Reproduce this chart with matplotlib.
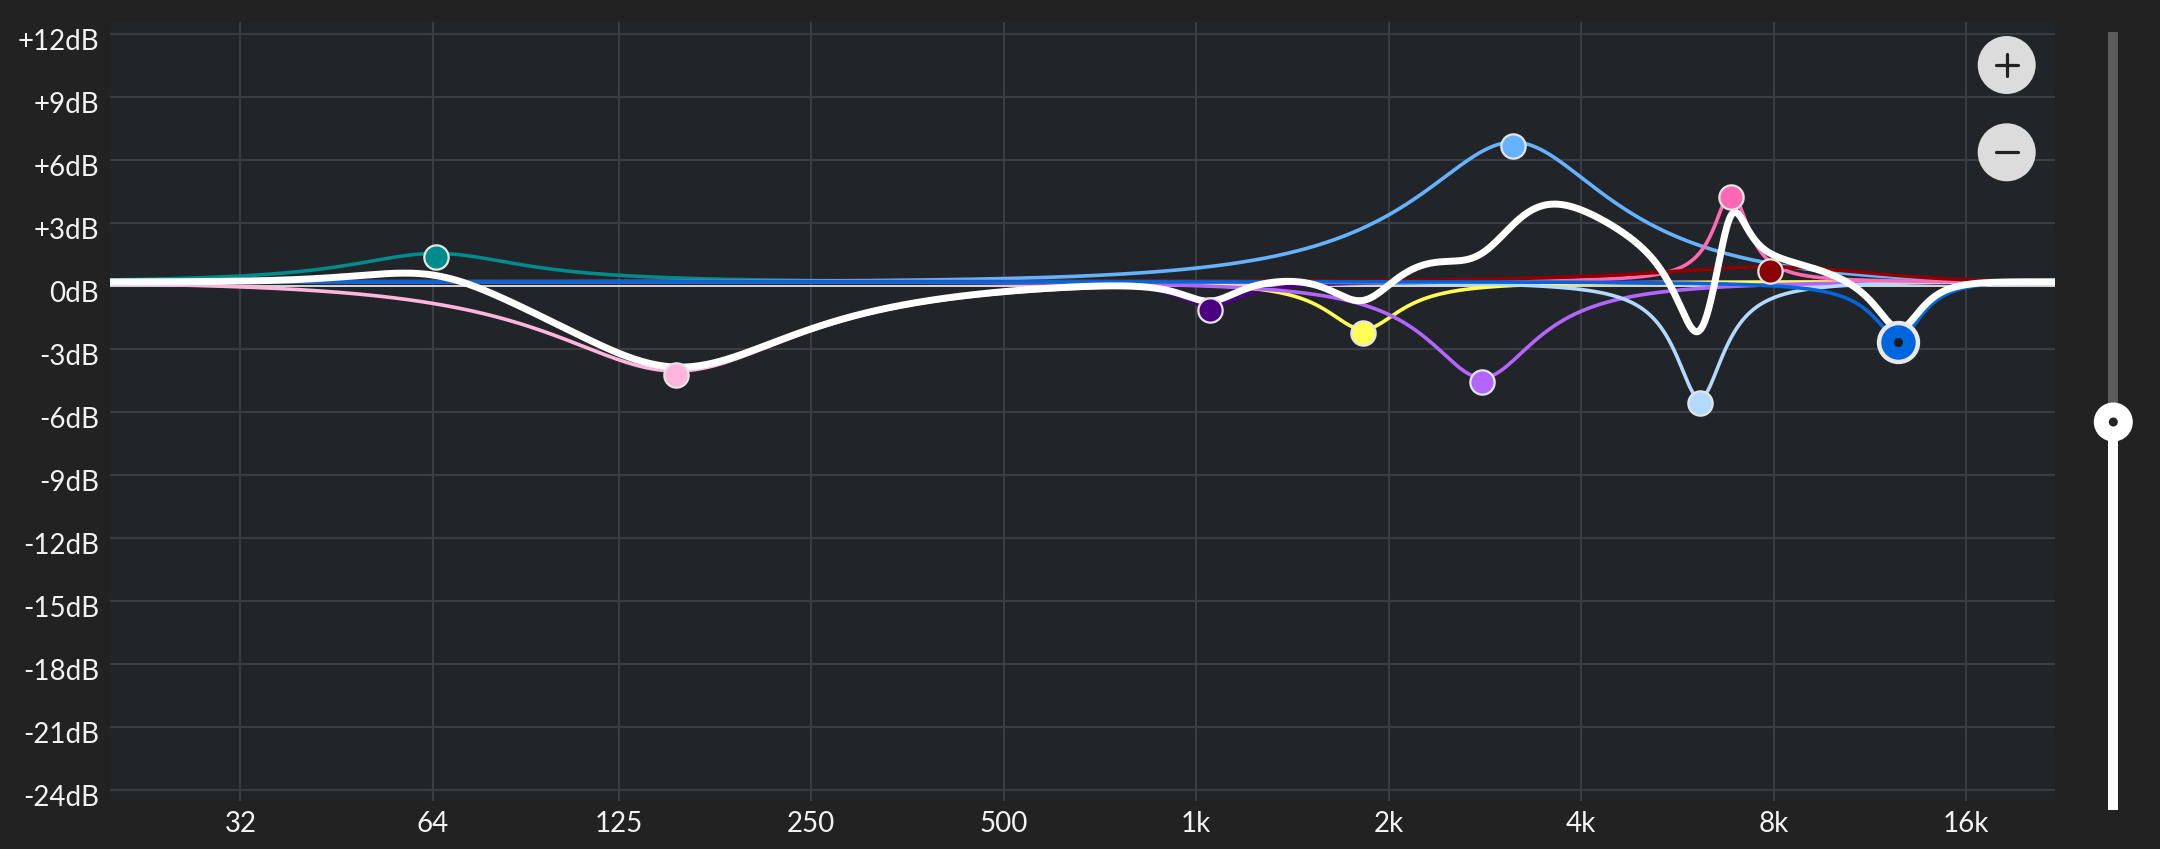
import numpy as np
import matplotlib
matplotlib.use('Agg')
import matplotlib.pyplot as plt
from matplotlib import transforms
from matplotlib.patches import Circle, Rectangle
from matplotlib.lines import Line2D
from matplotlib.ticker import NullLocator

plt.rcParams['font.family'] = ['Lato', 'DejaVu Sans']

# EQ bands (centre Hz, gain dB, Q)
band_freq = [64.7, 153.6, 1052, 1826, 2802, 3134, 6135, 6870, 7888, 12546]
band_gain = [1.35, -4.25, -1.16, -2.27, -4.57, 6.65, -5.57, 4.24, 0.71, -2.67]
band_q = [1.3, 0.9, 3.5, 3.0, 2.0, 1.1, 4.0, 5.5, 0.8, 2.5]
band_color = ['#008b8b', '#ffb6dd', '#4b0082', '#ffff55', '#b366ff',
              '#66b2ff', '#b3d9ff', '#ff69b4', '#8b0000', '#0066dd']
selected = 9

freq_ticks = [32, 64, 125, 250, 500, 1000, 2000, 4000, 8000, 16000]
freq_labels = ['32', '64', '125', '250', '500', '1k', '2k', '4k', '8k', '16k']
db_ticks = list(range(-24, 13, 3))

fs = 44100


def peaking_db(f, f0, gain, q):
    # RBJ peaking biquad, magnitude in dB
    A = 10 ** (gain / 40)
    w0 = 2 * np.pi * f0 / fs
    alpha = np.sin(w0) / (2 * q)
    b = [1 + alpha * A, -2 * np.cos(w0), 1 - alpha * A]
    a = [1 + alpha / A, -2 * np.cos(w0), 1 - alpha / A]
    z = np.exp(-1j * 2 * np.pi * f / fs)
    h = (b[0] + b[1] * z + b[2] * z ** 2) / (a[0] + a[1] * z + a[2] * z ** 2)
    return 20 * np.log10(np.abs(h))


W, H = 2160, 849
fig = plt.figure(figsize=(W / 100, H / 100), dpi=100, facecolor='#222222')
ax = fig.add_axes([110 / W, 1 - 800.7 / H, (2055 - 110) / W, (800.7 - 22) / H])
ax.set_facecolor('#212429')
ax.set_xscale('log')
ax.set_xlim(20, 22050)
ax.set_ylim(-24.52, 12.56)
ax.set_xticks(freq_ticks)
ax.set_xticklabels(freq_labels)
ax.xaxis.set_minor_locator(NullLocator())
ax.set_yticks(db_ticks)
ax.set_yticklabels([('+%ddB' % d) if d > 0 else ('%ddB' % d) for d in db_ticks])
ax.tick_params(length=0, colors='#f2f2f2', labelsize=20)
ax.tick_params(axis='y', pad=8)
ax.tick_params(axis='x', pad=7.5)
ax.grid(True, color='#3a3d42', lw=1.5)
ax.set_axisbelow(True)
for s in ax.spines.values():
    s.set_visible(False)

down = transforms.ScaledTranslation(0, -6 / 100, fig.dpi_scale_trans)
for lab in ax.get_yticklabels():
    lab.set_transform(lab.get_transform() + down)

freqs = np.geomspace(20, 22050, 3000)
lift = transforms.offset_copy(ax.transData, fig=fig, x=0, y=4, units='dots')

ax.axhline(0, color='white', lw=1.1, zorder=2)

responses = [peaking_db(freqs, band_freq[i], band_gain[i], band_q[i]) for i in range(len(band_freq))]
order = [i for i in range(len(band_freq)) if i != selected] + [selected]
for i in order:
    ax.plot(freqs, responses[i], color=band_color[i], lw=2.6, transform=lift, zorder=3)

total = np.sum(responses, axis=0)
ax.plot(freqs, total, color='white', lw=5, transform=lift, zorder=4,
        solid_capstyle='butt')

for i in order:
    if i == selected:
        ax.plot(band_freq[i], band_gain[i], 'o', ms=28, mfc=band_color[i],
                mec='#e8e8e8', mew=3.2, zorder=6)
        ax.plot(band_freq[i], band_gain[i], 'o', ms=6.5, mfc='#1a1a1a',
                mec='none', zorder=7)
    else:
        ax.plot(band_freq[i], band_gain[i], 'o', ms=17.5, mfc=band_color[i],
                mec='#e4e4e4', mew=1.6, zorder=5)


def px(x, y):
    return (x / 100, (H - y) / 100)


# zoom buttons
for cy in (65, 152.3):
    fig.add_artist(Circle(px(2006.7, cy), 0.29, transform=fig.dpi_scale_trans,
                          facecolor='#dcdcdc', edgecolor='none', zorder=10))
    x0, x1 = px(1995.7, cy), px(2017.7, cy)
    fig.add_artist(Line2D([x0[0], x1[0]], [x0[1], x1[1]], transform=fig.dpi_scale_trans,
                          color='#222222', lw=2.3, solid_capstyle='round', zorder=11))
y0, y1 = px(2006.7, 54), px(2006.7, 76)
fig.add_artist(Line2D([y0[0], y1[0]], [y0[1], y1[1]], transform=fig.dpi_scale_trans,
                      color='#222222', lw=2.3, solid_capstyle='round', zorder=11))

# slider
knob_y = 422
fig.add_artist(Rectangle(px(2108.3, knob_y), 0.10, (knob_y - 31.7) / 100,
                         transform=fig.dpi_scale_trans, facecolor='#5c5c5c',
                         edgecolor='none', zorder=10))
fig.add_artist(Rectangle(px(2108.3, 810), 0.10, (810 - knob_y) / 100,
                         transform=fig.dpi_scale_trans, facecolor='white',
                         edgecolor='none', zorder=10))
fig.add_artist(Circle(px(2113.3, knob_y), 0.195, transform=fig.dpi_scale_trans,
                      facecolor='white', edgecolor='none', zorder=11))
fig.add_artist(Circle(px(2113.3, knob_y), 0.045, transform=fig.dpi_scale_trans,
                      facecolor='#222222', edgecolor='none', zorder=12))

fig.savefig('out.png', dpi=100, facecolor=fig.get_facecolor())
